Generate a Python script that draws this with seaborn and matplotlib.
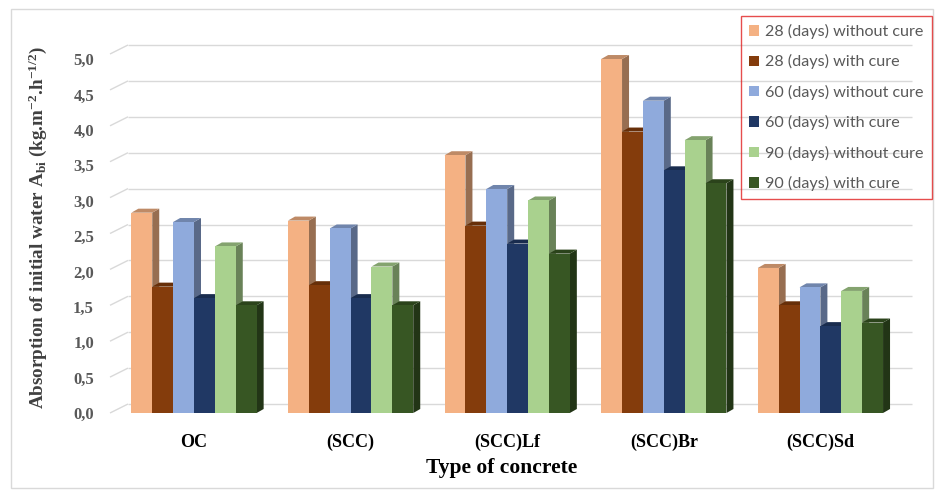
import numpy as np
import pandas as pd
import matplotlib
matplotlib.use("Agg")
import matplotlib.pyplot as plt
import seaborn as sns
from matplotlib.patches import Polygon, Rectangle
from matplotlib.colors import to_rgb
from matplotlib.font_manager import FontProperties

# ---- data ---------------------------------------------------------------
concretes = ["OC", "(SCC)", "(SCC)Lf", "(SCC)Br", "(SCC)Sd"]
series = ["28 (days) without cure", "28 (days) with cure",
          "60 (days) without cure", "60 (days) with cure",
          "90 (days) without cure", "90 (days) with cure"]
d28_without = [2.79, 2.68, 3.59, 4.93, 2.02]
d28_with = [1.76, 1.78, 2.61, 3.92, 1.50]
d60_without = [2.66, 2.57, 3.12, 4.35, 1.75]
d60_with = [1.60, 1.60, 2.36, 3.38, 1.21]
d90_without = [2.32, 2.04, 2.96, 3.80, 1.70]
d90_with = [1.50, 1.50, 2.22, 3.20, 1.26]
y_ticks = [0.0, 0.5, 1.0, 1.5, 2.0, 2.5, 3.0, 3.5, 4.0, 4.5, 5.0]

colors = ["#F4B183", "#843C0C", "#8FAADC", "#203864", "#A9D18E", "#375623"]

values = [d28_without, d28_with, d60_without, d60_with, d90_without, d90_with]
df = pd.DataFrame({
    "concrete": concretes * len(series),
    "series": np.repeat(series, len(concretes)),
    "value": np.concatenate(values),
})

# ---- figure / axes geometry (pixels) ------------------------------------
sns.set_style("white")
plt.rcParams["mathtext.fontset"] = "custom"
plt.rcParams["mathtext.rm"] = "Liberation Serif:bold"
plt.rcParams["mathtext.it"] = "Liberation Serif:bold"
plt.rcParams["mathtext.bf"] = "Liberation Serif:bold"

W, H = 935, 493
fig = plt.figure(figsize=(W / 100, H / 100), dpi=100)
fig.patch.set_facecolor("white")

L, R, B, T = 110, 894, 413, 54
ax = fig.add_axes([L / W, 1 - B / H, (R - L) / W, (B - T) / H])
ax.set_facecolor("none")

sns.barplot(data=df, x="concrete", y="value", hue="series",
            order=concretes, hue_order=series, palette=colors,
            saturation=1, width=0.8, gap=0, errorbar=None,
            linewidth=0, legend=False, ax=ax)

ppx = 156.6                      # pixels per category
x0_lim = -(194 - L) / ppx        # category 0 centred at 194 px
x1_lim = x0_lim + (R - L) / ppx
ax.set_xlim(x0_lim, x1_lim)
ax.set_ylim(0, 5)
ppy = (B - T) / 5.0

for s in ax.spines.values():
    s.set_visible(False)

# ---- back wall grid with floor diagonals --------------------------------
wx, wy = 18 / ppx, 9 / ppy
for v in y_ticks:
    ax.plot([x0_lim, x0_lim + wx], [v, v + wy], color="#d9d9d9", lw=1,
            zorder=0.5, clip_on=False, solid_capstyle="butt")
    ax.plot([x0_lim + wx, x1_lim + wx], [v + wy, v + wy], color="#d9d9d9",
            lw=1, zorder=0.5, clip_on=False, solid_capstyle="butt")

# ---- 3-D bar faces -------------------------------------------------------
dx, dy = 7 / ppx, 4 / ppy
bars = sorted([p for p in ax.patches if isinstance(p, Rectangle)],
              key=lambda p: p.get_x())
for k, bar in enumerate(bars):
    bx, bw, bh = bar.get_x(), bar.get_width(), bar.get_height()
    base = np.array(to_rgb(bar.get_facecolor()))
    z = 2 + k * 0.01
    side = Polygon([(bx + bw, 0), (bx + bw + dx, dy),
                    (bx + bw + dx, bh + dy), (bx + bw, bh)],
                   closed=True, facecolor=base * 0.62, lw=0,
                   zorder=z, clip_on=False)
    top = Polygon([(bx, bh), (bx + bw, bh), (bx + bw + dx, bh + dy),
                   (bx + dx, bh + dy)], closed=True,
                  facecolor=base * 0.78, lw=0, zorder=z, clip_on=False)
    ax.add_patch(side)
    ax.add_patch(top)
    bar.set_zorder(z + 0.001)
    bar.set_clip_on(False)

# ---- ticks and labels ----------------------------------------------------
ax.set_yticks([])
for v in y_ticks:
    ax.text(x0_lim - 16 / ppx, v - (2 + 1.0 * v) / ppy,
            f"{v:.1f}".replace(".", ","),
            transform=ax.transData, ha="right", va="center",
            fontfamily="Liberation Serif", fontweight="bold", fontsize=12,
            color="#595959")

ax.set_xticks(range(len(concretes)))
ax.set_xticklabels(concretes, fontfamily="Liberation Serif",
                   fontweight="bold", fontsize=13, color="black")
ax.tick_params(axis="x", length=0, pad=15)
ax.set_xlabel("Type of concrete", fontfamily="Liberation Serif",
              fontweight="bold", fontsize=15.5, color="black", labelpad=5)
ax.set_ylabel("")

fig.text(38 / W, 1 - 228 / H,
         r"Absorption of initial water A$_{\mathrm{bi}}$ (kg.m$^{\mathrm{-2}}$.h$^{\mathrm{-1/2}}$)",
         rotation=90, ha="center", va="center",
         fontfamily="Liberation Serif", fontweight="bold", fontsize=13.8,
         color="#404040")

# ---- legend --------------------------------------------------------------
handles = [Rectangle((0, 0), 1, 1, facecolor=c, lw=0) for c in colors]
leg = fig.legend(handles, series, loc="upper left",
                 bbox_to_anchor=(741 / W, 1 - 16 / H), borderaxespad=0,
                 frameon=True, fancybox=False, edgecolor="#e02020",
                 facecolor="none", prop=FontProperties(family="Lato", size=11.6),
                 labelcolor="#595959", handlelength=0.62, handleheight=0.62,
                 handletextpad=0.4, labelspacing=0.95, borderpad=0.5)
leg.get_frame().set_linewidth(1.0)

# ---- chart border ----------------------------------------------------------
fig.add_artist(Rectangle((11 / W, 1 - 488 / H), (933 - 11) / W, (488 - 9) / H,
                         transform=fig.transFigure, fill=False,
                         edgecolor="#d9d9d9", lw=1))

fig.savefig("out.png", dpi=100)
